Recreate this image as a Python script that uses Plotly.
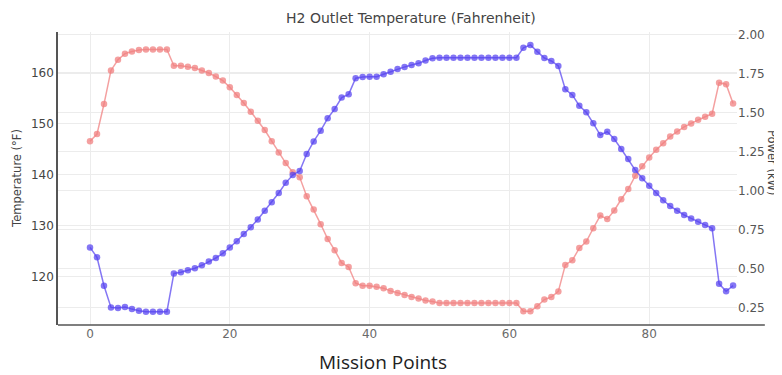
import plotly.graph_objects as go

# ---- data ----
mission_points = list(range(93))

temperature_f = [
    146.6, 148.0, 153.9, 160.5, 162.6, 163.8, 164.2, 164.5, 164.6, 164.6,
    164.6, 164.6, 161.4, 161.4, 161.2, 161.0, 160.5, 160.0, 159.3, 158.5,
    157.2, 155.7, 154.1, 152.4, 150.6, 148.8, 146.6, 144.4, 142.3, 140.5,
    139.5, 135.8, 133.2, 130.3, 127.4, 125.2, 122.7, 121.9, 118.7, 118.2,
    118.2, 118.0, 117.7, 117.2, 116.8, 116.4, 116.0, 115.7, 115.3, 115.1,
    114.8, 114.8, 114.8, 114.8, 114.8, 114.8, 114.8, 114.8, 114.8, 114.8,
    114.8, 114.8, 113.2, 113.2, 114.2, 115.5, 116.0, 117.1, 122.3, 123.2,
    125.6, 126.9, 129.5, 132.0, 131.3, 133.0, 135.2, 137.2, 139.8, 141.7,
    143.4, 144.9, 146.2, 147.5, 148.5, 149.4, 150.1, 150.8, 151.4, 152.0,
    158.1, 157.8, 154.0,
]

power_kw = [
    0.637, 0.573, 0.391, 0.252, 0.248, 0.254, 0.241, 0.230, 0.224, 0.224,
    0.224, 0.224, 0.470, 0.477, 0.490, 0.503, 0.522, 0.546, 0.569, 0.599,
    0.636, 0.676, 0.723, 0.766, 0.816, 0.872, 0.926, 0.986, 1.051, 1.101,
    1.127, 1.236, 1.317, 1.386, 1.465, 1.525, 1.598, 1.619, 1.722, 1.730,
    1.732, 1.732, 1.748, 1.764, 1.782, 1.795, 1.807, 1.818, 1.836, 1.850,
    1.854, 1.854, 1.854, 1.854, 1.854, 1.854, 1.854, 1.854, 1.854, 1.854,
    1.854, 1.854, 1.918, 1.936, 1.893, 1.852, 1.833, 1.801, 1.651, 1.615,
    1.546, 1.504, 1.433, 1.358, 1.379, 1.332, 1.268, 1.204, 1.133, 1.080,
    1.033, 0.986, 0.939, 0.902, 0.872, 0.845, 0.823, 0.802, 0.780, 0.759,
    0.403, 0.355, 0.392,
]

x_ticks = [0, 20, 40, 60, 80]
temp_ticks = [120, 130, 140, 150, 160]
power_ticks = [0.25, 0.50, 0.75, 1.00, 1.25, 1.50, 1.75, 2.00]
power_tick_labels = ["0.25", "0.50", "0.75", "1.00", "1.25", "1.50", "1.75", "2.00"]

title_text = "H2 Outlet Temperature (Fahrenheit)"
x_title = "Mission Points"
y_title = "Temperature (°F)"
y2_title = "Power (kW)"

# ---- styles ----
RED = "rgba(240,128,128,0.75)"
BLUE = "rgba(85,65,240,0.72)"
GRID = "#ececec"
AXIS = "#555555"
FONT = "DejaVu Sans"

fig = go.Figure()
fig.add_trace(go.Scatter(
    x=mission_points, y=temperature_f, mode="lines+markers", yaxis="y",
    line=dict(color=RED, width=1.5), marker=dict(size=6.5, color=RED),
    name=y_title,
))
fig.add_trace(go.Scatter(
    x=mission_points, y=power_kw, mode="lines+markers", yaxis="y2",
    line=dict(color=BLUE, width=1.5), marker=dict(size=6.5, color=BLUE),
    name=y2_title,
))

# page body has an 8px default margin, so the figure is 8px smaller
fig.update_layout(
    width=774, height=367,
    margin=dict(l=50, r=45, t=24, b=50),
    paper_bgcolor="white", plot_bgcolor="white",
    showlegend=False,
    font=dict(family=FONT),
    xaxis=dict(
        range=[-4.58, 92.56], tickvals=x_ticks, showgrid=True, gridcolor=GRID,
        gridwidth=1, zeroline=False, showline=False, ticks="",
        tickfont=dict(family=FONT, size=12, color="#6a6a6a"),
    ),
    yaxis=dict(
        range=[110.5, 168.05], tickvals=temp_ticks, showgrid=True, gridcolor=GRID,
        zeroline=False, showline=True, linecolor=AXIS, linewidth=1.5, ticks="",
        tickfont=dict(family=FONT, size=12, color="#444444"),
    ),
    yaxis2=dict(
        overlaying="y", side="right", range=[0.139, 2.019],
        tickvals=power_ticks, ticktext=power_tick_labels,
        showgrid=True, gridcolor=GRID, zeroline=False, showline=False, ticks="",
        tickfont=dict(family=FONT, size=12, color="#555555"),
    ),
    shapes=[dict(
        type="line", xref="paper", yref="paper", x0=0, x1=1.041, y0=0, y1=0,
        line=dict(color=AXIS, width=1.5),
    )],
    annotations=[
        dict(text=title_text, xref="paper", yref="paper", x=0.52, y=1.048,
             showarrow=False, xanchor="center", yanchor="middle",
             font=dict(family=FONT, size=14, color="#444444")),
        dict(text=x_title, xref="paper", yref="paper", x=0.479, y=-0.126,
             showarrow=False, xanchor="center", yanchor="middle",
             font=dict(family="Open Sans", size=19, color="#222222")),
        dict(text=y_title, xref="paper", yref="paper", x=-0.0604, y=0.502,
             showarrow=False, xanchor="center", yanchor="middle", textangle=-90,
             font=dict(family=FONT, size=11.5, color="#444444")),
        dict(text=y2_title, xref="paper", yref="paper", x=1.0515, y=0.553,
             showarrow=False, xanchor="center", yanchor="middle", textangle=90,
             font=dict(family=FONT, size=11.5, color="#444444")),
    ],
)

fig.write_html("out.html")
